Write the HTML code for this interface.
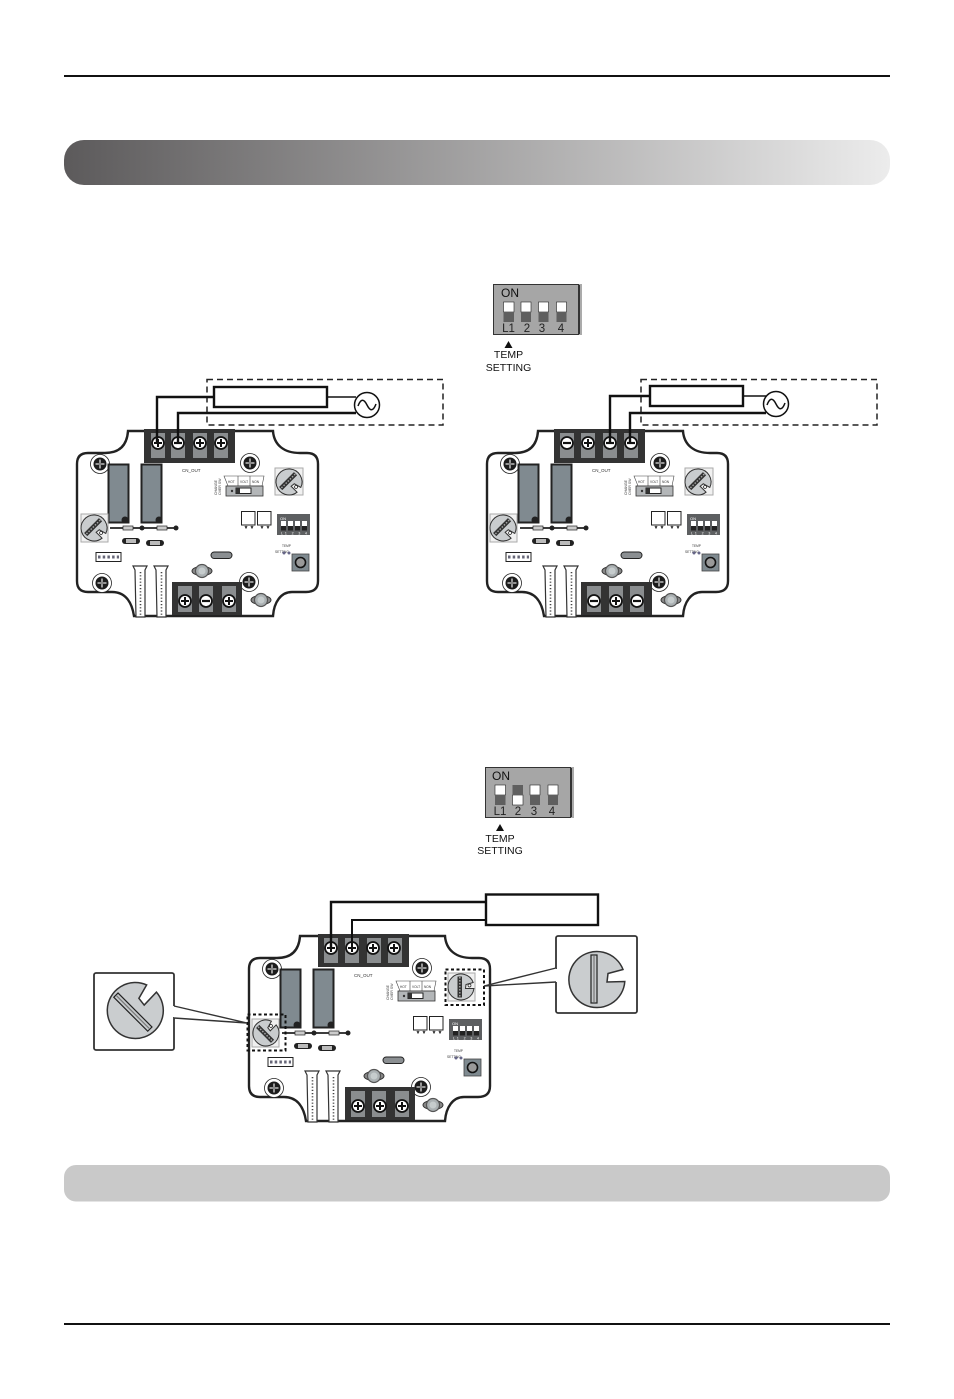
<!DOCTYPE html>
<html><head><meta charset="utf-8"><style>html,body{margin:0;padding:0;background:#fff}svg{display:block}text{font-family:"Liberation Sans",sans-serif}</style></head>
<body>
<svg width="954" height="1399" viewBox="0 0 954 1399" xmlns="http://www.w3.org/2000/svg">
<defs>
<linearGradient id="g" x1="0" x2="1" y1="0" y2="0"><stop offset="0" stop-color="#5c5a5b"/><stop offset="1" stop-color="#ececec"/></linearGradient>
<g id="plus"><circle r="6" fill="#fff" stroke="#111" stroke-width="1.8"/><path d="M-4 0H4M0-4V4" stroke="#111" stroke-width="2"/></g>
<g id="minus"><circle r="6" fill="#fff" stroke="#111" stroke-width="1.8"/><path d="M-4 0H4" stroke="#111" stroke-width="2.200"/></g>
<g id="screw"><circle r="9.500" fill="#fff" stroke="#222" stroke-width=".8"/><circle r="6.500" fill="#1c1c1c"/><path d="M-4.500 0H4.500M0-4.500V4.500" stroke="#ddd" stroke-width="1.300"/><circle r="1.500" fill="#888"/></g>
<g id="nut"><ellipse rx="10" ry="4.500" fill="#888" stroke="#333"/><circle r="6.500" fill="#aab0b2" stroke="#555" stroke-width="1.200"/><circle r="3.500" fill="#c6cccd"/></g>
<g id="pot"><path d="M12.200 -4.500L5 -2.500L4.500 1.500L12.900 1.500A13 13 0 1 1 12.200 -4.500Z" fill="#c9ccce" stroke="#333" stroke-width="1"/><rect x="-3.500" y="-10.500" width="4.500" height="21" fill="#333"/><path d="M-1.200 -10V10" stroke="#aaa" stroke-width="1.400" stroke-dasharray="1.500 1.500"/><circle cx="8.500" cy="-1.500" r="1.500" fill="#fff" stroke="#222" stroke-width=".7"/></g>
<g id="bigpot"><path d="M26 -9.500L11 -5.500L10 3L27.800 2.500A28 28 0 1 1 26 -9.500Z" fill="#cacdcf" stroke="#333" stroke-width="1.500"/><rect x="-6" y="-24" width="6" height="48" fill="#c5c8ca" stroke="#222" stroke-width="1.200"/><path d="M-3 -23V23" stroke="#777" stroke-width="1.200"/></g>
<g id="conn"><path d="M0 0H14L12 4V51H3L2 4Z" fill="#fff" stroke="#333" stroke-width="1.200"/><path d="M7.500 6V50" stroke="#444" stroke-width="1.600" stroke-dasharray="1.200 2"/></g>
<g id="smalldip"><rect width="33" height="21" fill="#5d5f61"/><text x="3" y="6" font-size="4" fill="#fff">ON</text><g fill="#fff"><rect x="4" y="7" width="5" height="5"/><rect x="11" y="7" width="5" height="5"/><rect x="18" y="7" width="5" height="5"/><rect x="25" y="7" width="5" height="5"/></g><g fill="#222"><rect x="4" y="12" width="5" height="4.500"/><rect x="11" y="12" width="5" height="4.500"/><rect x="18" y="12" width="5" height="4.500"/><rect x="25" y="12" width="5" height="4.500"/></g><text x="4" y="20.500" font-size="3.500" fill="#fff" textLength="26">L1 2 3 4</text></g>
<g id="board">
<path d="M128 431H273C274 445 284 453 300 453H307Q318 453 318 464V581Q318 592 306 592H292C281 592 274 602 273 616H134C132 603 126 592 112 592H88Q77 592 77 581V464Q77 453 88 453H105C120 453 127 445 128 431Z" fill="#fff" stroke="#222" stroke-width="2.400"/>
<use href="#screw" x="100" y="464"/><use href="#screw" x="250" y="463"/><use href="#screw" x="102" y="583"/><use href="#screw" x="249" y="582"/>
<rect x="108.500" y="464.500" width="20" height="58" fill="#808a90" stroke="#222" stroke-width="2"/><rect x="141.500" y="464.500" width="20" height="58" fill="#808a90" stroke="#222" stroke-width="2"/>
<circle cx="125" cy="520" r="3.500" fill="#222"/><circle cx="159" cy="520" r="3.500" fill="#222"/>
<path d="M110 528H176" stroke="#222" stroke-width="1.800"/><circle cx="142" cy="528" r="2.500" fill="#222"/><circle cx="176" cy="528" r="2.500" fill="#222"/>
<rect x="123" y="526" width="10" height="4" fill="#ccc" stroke="#222" stroke-width=".7"/><rect x="157" y="526" width="10" height="4" fill="#ccc" stroke="#222" stroke-width=".7"/>
<rect x="122" y="538" width="18" height="6" rx="3" fill="#222"/><rect x="126" y="539" width="10" height="4" fill="#bbb"/>
<rect x="146" y="540" width="18" height="6" rx="3" fill="#222"/><rect x="150" y="541" width="10" height="4" fill="#bbb"/>
<rect x="96" y="552.500" width="25" height="9" fill="#fff" stroke="#222" stroke-width="1"/><path d="M98 557H119" stroke="#667" stroke-width="3" stroke-dasharray="2.500 2.200"/>
<rect x="211" y="552" width="21" height="6.500" rx="3.200" fill="#8b8f92" stroke="#222" stroke-width="1"/>
<use href="#nut" x="202" y="571"/><use href="#nut" x="261" y="600"/>
<use href="#conn" x="133" y="566"/><use href="#conn" x="154" y="566"/>
<text x="182" y="472" font-size="4.500" fill="#333">CN_OUT</text>
<path d="M224 476H238V486H228Z M238 476H250V486H238Z M250 476H264L262 486H250Z" fill="#fff" stroke="#444" stroke-width=".6"/>
<text x="228" y="483" font-size="3.200" fill="#333">HOT</text><text x="240" y="483" font-size="3.200" fill="#333">VOLT</text><text x="252" y="483" font-size="3.200" fill="#333">NON</text>
<rect x="226" y="486" width="37" height="10" fill="#b3b6b8" stroke="#333" stroke-width=".8"/><circle cx="232" cy="491" r="1.200" fill="#333"/><rect x="236" y="488" width="15" height="5.500" fill="#fff" stroke="#222" stroke-width="1"/><rect x="236" y="488" width="4" height="5.500" fill="#333"/>
<text transform="translate(217,495) rotate(-90)" font-size="3.500" fill="#444">CHANGE</text><text transform="translate(221,495) rotate(-90)" font-size="3.500" fill="#444">OVER SW</text>
<path d="M241.500 511.500H255V525H241.500Z" fill="#fff" stroke="#222" stroke-width="1"/><path d="M257.500 511.500H271V525H257.500Z" fill="#fff" stroke="#222" stroke-width="1"/>
<path d="M245 526l1 2 1-2M251 526l1 2 1-2M261 526l1 2 1-2M267 526l1 2 1-2" stroke="#222" fill="none"/>
<use href="#smalldip" x="277" y="514"/>
<text x="282" y="547" font-size="3.200" fill="#333">TEMP</text><text x="275" y="553" font-size="3.200" fill="#333">SETTING</text>
<circle cx="284" cy="553" r="1.500" fill="#668"/><circle cx="289" cy="553" r="1.500" fill="#668"/>
<rect x="292" y="554" width="17" height="17" fill="#7f8a90" stroke="#444" stroke-width=".8"/><circle cx="300.500" cy="562.500" r="5" fill="#999" stroke="#111" stroke-width="1.600"/>
</g>
<g id="bigdip"><rect x="2" y="0" width="87" height="51" fill="#ababab"/><rect x="0.500" y="0.500" width="85" height="50" fill="#a6a6a6" stroke="#333" stroke-width="1"/><rect x="85.500" y="1" width="1.500" height="49" fill="#333"/></g>
</defs>
<rect width="954" height="1399" fill="#fff"/>
<rect x="64" y="75" width="826" height="2" fill="#111"/>
<rect x="64" y="140" width="826" height="45" rx="20" fill="url(#g)"/>
<rect x="64" y="1165" width="826" height="36.500" rx="12" fill="#c9c9c9"/>
<rect x="64" y="1323" width="826" height="2" fill="#111"/>

<!-- DIP 1 -->
<use href="#bigdip" x="493" y="284"/>
<text x="501" y="297" font-size="12" fill="#111">ON</text>
<g fill="#fff" stroke="#222" stroke-width=".6"><rect x="503.500" y="302" width="10.500" height="10"/><rect x="521" y="302" width="10" height="10"/><rect x="538.500" y="302" width="10" height="10"/><rect x="556.500" y="302" width="10" height="10"/></g>
<g fill="#5f5f5f"><rect x="503.500" y="312" width="10.500" height="10"/><rect x="521" y="312" width="10" height="10"/><rect x="538.500" y="312" width="10" height="10"/><rect x="556.500" y="312" width="10" height="10"/></g>
<g font-size="11.500" fill="#222" text-anchor="middle"><text x="508.500" y="332">L1</text><text x="527" y="332">2</text><text x="542" y="332">3</text><text x="561" y="332">4</text></g>
<path d="M508.500 341L512.500 348H504.500Z" fill="#111"/>
<g font-size="10.500" fill="#111" text-anchor="middle"><text x="508.500" y="358">TEMP</text><text x="508.500" y="371">SETTING</text></g>

<!-- DIP 2 -->
<use href="#bigdip" x="485" y="767"/>
<text x="492" y="780" font-size="12" fill="#111">ON</text>
<g fill="#fff" stroke="#222" stroke-width=".6"><rect x="495" y="785" width="10.500" height="10"/><rect x="512.500" y="795" width="10.500" height="10"/><rect x="530" y="785" width="10" height="10"/><rect x="548" y="785" width="10" height="10"/></g>
<g fill="#5f5f5f"><rect x="495" y="795" width="10.500" height="10"/><rect x="512.500" y="785" width="10.500" height="10"/><rect x="530" y="795" width="10" height="10"/><rect x="548" y="795" width="10" height="10"/></g>
<g font-size="11.500" fill="#222" text-anchor="middle"><text x="500" y="815">L1</text><text x="518" y="815">2</text><text x="534" y="815">3</text><text x="552" y="815">4</text></g>
<path d="M500 824L504 831H496Z" fill="#111"/>
<g font-size="10.500" fill="#111" text-anchor="middle"><text x="500" y="842">TEMP</text><text x="500" y="854">SETTING</text></g>

<!-- BOARD 1 -->
<use href="#board"/>
<rect x="144" y="429" width="91" height="34" fill="#333"/>
<g fill="#8a8d8f"><rect x="151" y="433" width="14" height="25"/><rect x="171" y="433" width="14" height="25"/><rect x="193" y="433" width="14" height="25"/><rect x="214" y="433" width="14" height="25"/></g>
<use href="#plus" x="158" y="443"/><use href="#minus" x="178" y="443"/><use href="#plus" x="200" y="443"/><use href="#plus" x="221" y="443"/>
<rect x="172" y="582" width="70" height="33" fill="#333"/>
<g fill="#8a8d8f"><rect x="178" y="586" width="14" height="26"/><rect x="199" y="586" width="14" height="26"/><rect x="222" y="586" width="14" height="26"/></g>
<use href="#plus" x="185" y="601"/><use href="#minus" x="206" y="601"/><use href="#plus" x="229" y="601"/>
<rect x="275" y="468" width="28" height="27" fill="#f0f0f0" stroke="#aaa"/><g transform="translate(289,482) rotate(45)"><use href="#pot"/></g>
<rect x="81" y="514" width="27" height="28" fill="#f0f0f0" stroke="#aaa"/><g transform="translate(94,528) rotate(45)"><use href="#pot"/></g>
<rect x="207" y="379.500" width="236" height="45.500" fill="none" stroke="#222" stroke-width="1.500" stroke-dasharray="6 4"/>
<path d="M214 397H157V443" fill="none" stroke="#111" stroke-width="2.400"/>
<path d="M356 413H178V443" fill="none" stroke="#111" stroke-width="2.400"/>
<path d="M327 397H356" stroke="#111" stroke-width="1.600"/>
<rect x="214" y="387" width="113" height="20" fill="#fff" stroke="#111" stroke-width="2.400"/>
<circle cx="367" cy="405" r="12.500" fill="#fff" stroke="#111" stroke-width="1.500"/>
<path d="M358 406C361 398 364 399 367 405S373 412 376 404" fill="none" stroke="#111" stroke-width="1.500"/>

<!-- BOARD 2 -->
<use href="#board" x="410"/>
<rect x="554" y="429" width="91" height="34" fill="#333"/>
<g fill="#8a8d8f"><rect x="560" y="433" width="14" height="25"/><rect x="581" y="433" width="14" height="25"/><rect x="603" y="433" width="14" height="25"/><rect x="624" y="433" width="14" height="25"/></g>
<use href="#minus" x="567" y="443"/><use href="#plus" x="588" y="443"/><use href="#minus" x="610" y="443"/><use href="#minus" x="631" y="443"/>
<rect x="581" y="582" width="71" height="33" fill="#333"/>
<g fill="#8a8d8f"><rect x="587" y="586" width="14" height="26"/><rect x="609" y="586" width="14" height="26"/><rect x="630" y="586" width="14" height="26"/></g>
<use href="#minus" x="594" y="601"/><use href="#plus" x="616" y="601"/><use href="#minus" x="637" y="601"/>
<rect x="685" y="468" width="28" height="27" fill="#f0f0f0" stroke="#aaa"/><g transform="translate(698,482) rotate(45)"><use href="#pot"/></g>
<rect x="490" y="514" width="27" height="28" fill="#f0f0f0" stroke="#aaa"/><g transform="translate(503,528) rotate(45)"><use href="#pot"/></g>
<rect x="641" y="379.500" width="236" height="45.500" fill="none" stroke="#222" stroke-width="1.500" stroke-dasharray="6 4"/>
<path d="M650 396H610V443" fill="none" stroke="#111" stroke-width="2.400"/>
<path d="M766 413H630V443" fill="none" stroke="#111" stroke-width="2.400"/>
<path d="M743 396H766" stroke="#111" stroke-width="1.600"/>
<rect x="650" y="386" width="93" height="20" fill="#fff" stroke="#111" stroke-width="2.400"/>
<circle cx="776" cy="404" r="12.500" fill="#fff" stroke="#111" stroke-width="1.500"/>
<path d="M767 405C770 397 773 398 776 404S782 411 785 403" fill="none" stroke="#111" stroke-width="1.500"/>

<!-- BOARD 3 -->
<use href="#board" x="172" y="505"/>
<rect x="318" y="934" width="91" height="33" fill="#333"/>
<g fill="#8a8d8f"><rect x="324" y="938" width="14" height="25"/><rect x="345" y="938" width="14" height="25"/><rect x="367" y="938" width="14" height="25"/><rect x="388" y="938" width="14" height="25"/></g>
<use href="#plus" x="331" y="948"/><use href="#plus" x="352" y="948"/><use href="#plus" x="373" y="948"/><use href="#plus" x="394" y="948"/>
<rect x="345" y="1087" width="70" height="33" fill="#333"/>
<g fill="#8a8d8f"><rect x="351" y="1091" width="14" height="26"/><rect x="372" y="1091" width="14" height="26"/><rect x="395" y="1091" width="14" height="26"/></g>
<use href="#plus" x="358" y="1106"/><use href="#plus" x="380" y="1106"/><use href="#plus" x="402" y="1106"/>
<rect x="448" y="973" width="27" height="28" fill="#f0f0f0" stroke="#aaa"/>
<use href="#pot" x="461" y="987"/>
<rect x="252" y="1019" width="27" height="28" fill="#f0f0f0" stroke="#aaa"/><g transform="translate(266,1033) rotate(-45)"><use href="#pot"/></g>
<rect x="247.500" y="1014.500" width="38" height="36" fill="none" stroke="#111" stroke-width="2" stroke-dasharray="3 2.500"/>
<rect x="445.500" y="969.500" width="38.500" height="35.500" fill="none" stroke="#111" stroke-width="2" stroke-dasharray="3 2.500"/>
<path d="M486 902H331V948" fill="none" stroke="#111" stroke-width="2.400"/>
<path d="M486 920H352V948" fill="none" stroke="#111" stroke-width="2"/>
<rect x="486" y="894.500" width="112" height="30.500" fill="#fff" stroke="#111" stroke-width="2.400"/>

<!-- callouts -->
<rect x="94" y="973" width="80" height="77" rx="2" fill="#fff" stroke="#333" stroke-width="1.800"/>
<g transform="translate(135,1010) rotate(-45)"><use href="#bigpot"/></g>
<path d="M174 1006V1017" stroke="#fff" stroke-width="3"/>
<path d="M174 1006L247 1023L174 1018" fill="#fff" stroke="#333" stroke-width="1.400"/>
<rect x="556" y="936" width="81" height="77" rx="2" fill="#fff" stroke="#333" stroke-width="1.800"/>
<use href="#bigpot" x="597" y="979"/>
<path d="M556 969V982" stroke="#fff" stroke-width="3"/>
<path d="M556 968L484 986L556 982" fill="#fff" stroke="#333" stroke-width="1.400"/>
</svg>
</body></html>
